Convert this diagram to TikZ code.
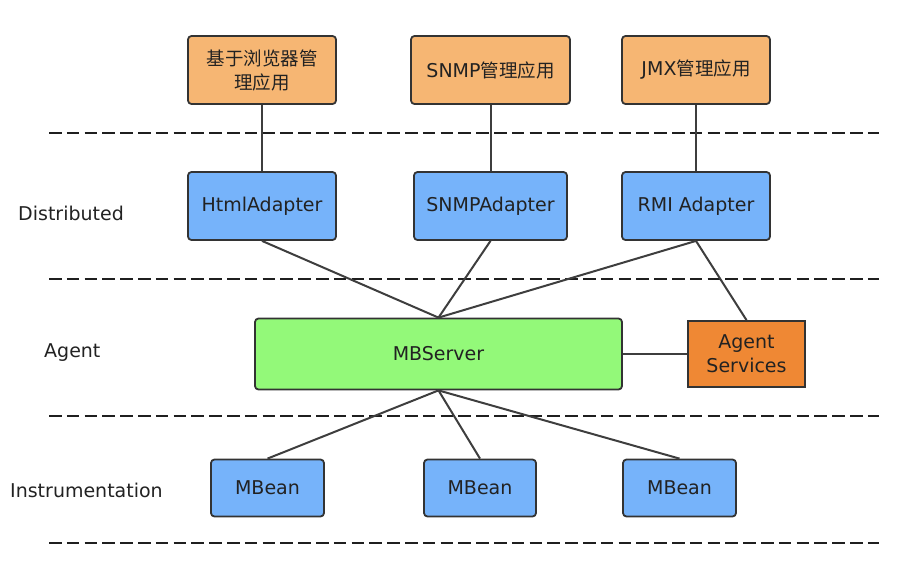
\documentclass[tikz,border=0pt]{standalone}
\usepackage{fontspec}
\setmainfont{DejaVu Sans}
\newfontfamily\cjk{Noto Sans CJK SC}
\definecolor{apporange}{HTML}{F6B673}
\definecolor{adblue}{HTML}{76B3FA}
\definecolor{srvgreen}{HTML}{93F979}
\definecolor{svcorange}{HTML}{EF8834}
\definecolor{boxline}{HTML}{333333}
\definecolor{conn}{HTML}{3E3E3E}
\definecolor{txt}{HTML}{222222}
\begin{document}
\begin{tikzpicture}[x=1pt,y=-1pt,
  box/.style={draw=boxline, line width=1.8pt, rounded corners=3.5pt, text=txt, align=center, inner sep=0pt,
    font=\fontsize{19}{24}\selectfont},
  appbox/.style={box, fill=apporange, minimum height=68},
  adbox/.style={box, fill=adblue, minimum height=68},
  srvbox/.style={box, fill=srvgreen, minimum height=71},
  svcbox/.style={box, fill=svcorange, rounded corners=0pt, minimum height=66},
  beanbox/.style={box, fill=adblue, minimum height=57},
  layerlabel/.style={anchor=west, inner sep=0pt, text=txt, font=\fontsize{19}{24}\selectfont},
  sep/.style={draw=black!88, line width=2.7pt, dash pattern=on 12.5pt off 5.3pt},
  link/.style={draw=conn, line width=2pt}
]
\useasboundingbox (0,0) rectangle (900,566);

% separators
\coordinate (s1a) at (49,133); \coordinate (s1b) at (879,133);
\coordinate (s2a) at (49,279); \coordinate (s2b) at (879,279);
\coordinate (s3a) at (49,416); \coordinate (s3b) at (879,416);
\coordinate (s4a) at (49,543); \coordinate (s4b) at (879,543);
\draw[sep] (s1a) -- (s1b);
\draw[sep] (s2a) -- (s2b);
\draw[sep] (s3a) -- (s3b);
\draw[sep] (s4a) -- (s4b);

% layer labels
\node[layerlabel] (ldist) at (18,213) {Distributed};
\node[layerlabel] (lagent) at (44,353) {Agent};
\node[layerlabel] (linst) at (10,490) {Instrumentation};

% management applications
\node[appbox, minimum width=148] (app1) at (262,70) {{\cjk\fontsize{18.5}{24}\selectfont 基于浏览器管}\\{\cjk\fontsize{18.5}{24}\selectfont 理应用}};
\node[appbox, minimum width=159] (app2) at (490.5,70) {SNMP{\cjk\fontsize{18.5}{24}\selectfont 管理应用}};
\node[appbox, minimum width=148] (app3) at (696,70) {JMX{\cjk\fontsize{18.5}{24}\selectfont 管理应用}};

% adapters
\node[adbox, minimum width=148] (html) at (262,206) {HtmlAdapter};
\node[adbox, minimum width=153] (snmp) at (490.5,206) {SNMPAdapter};
\node[adbox, minimum width=148] (rmi) at (696,206) {RMI Adapter};

% agent level
\node[srvbox, minimum width=367] (mbs) at (438.5,354) {MBServer};
\node[svcbox, minimum width=117] (svc) at (746.5,354) {Agent\\Services};

% instrumentation
\node[beanbox, minimum width=113] (b1) at (267.5,488) {MBean};
\node[beanbox, minimum width=112] (b2) at (480,488) {MBean};
\node[beanbox, minimum width=113] (b3) at (679.5,488) {MBean};

% connectors
\draw[link] (app1.south) -- (html.north);
\draw[link] (app2.south) -- (snmp.north);
\draw[link] (app3.south) -- (rmi.north);
\draw[link] (html.south) -- (mbs.north);
\draw[link] (snmp.south) -- (mbs.north);
\draw[link] (rmi.south) -- (mbs.north);
\draw[link] (rmi.south) -- (svc.north);
\draw[link] (mbs.east) -- (svc.west);
\draw[link] (mbs.south) -- (b1.north);
\draw[link] (mbs.south) -- (b2.north);
\draw[link] (mbs.south) -- (b3.north);
\end{tikzpicture}
\end{document}
